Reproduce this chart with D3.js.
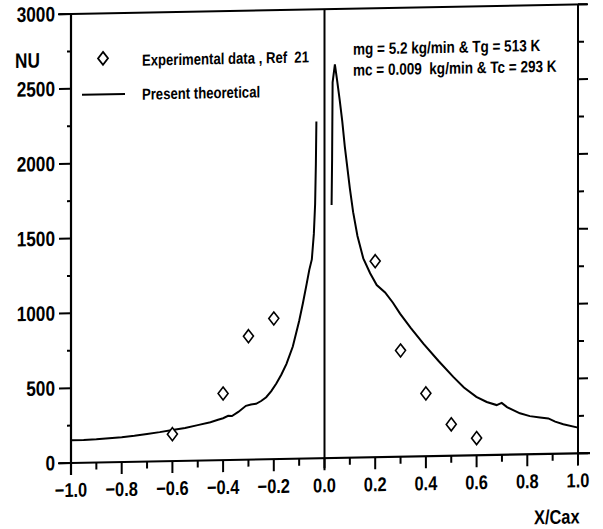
<!DOCTYPE html>
<html>
<head>
<meta charset="utf-8">
<script src="https://cdn.jsdelivr.net/npm/d3@7"></script>
<style>
  body { margin: 0; background: #fff; }
  text { font-family: "Liberation Sans", Arial, sans-serif; font-weight: bold; fill: #000; white-space: pre; }
</style>
</head>
<body>
<div class="chart"></div>
<script>
// theoretical curve, left of the leading edge
var leftX  = [-1.0, -0.95, -0.9, -0.85, -0.8, -0.75, -0.7, -0.65, -0.6, -0.55, -0.5, -0.45, -0.42, -0.4, -0.38, -0.365, -0.34, -0.31, -0.29, -0.27, -0.25, -0.23, -0.21, -0.19, -0.17, -0.15, -0.125, -0.1, -0.085, -0.07, -0.06, -0.05, -0.042, -0.037, -0.034, -0.032];
var leftNU = [152, 152, 155, 160, 166, 174, 184, 195, 208, 220, 237, 255, 270, 280, 295, 293, 320, 360, 368, 372, 390, 415, 455, 505, 565, 635, 750, 920, 1040, 1170, 1260, 1330, 1500, 1700, 1970, 2250];

// theoretical curve, right of the leading edge
var rightX  = [0.028, 0.030, 0.032, 0.041, 0.05, 0.06, 0.07, 0.08, 0.09, 0.10, 0.113, 0.13, 0.153, 0.18, 0.206, 0.239, 0.27, 0.298, 0.34, 0.39, 0.45, 0.508, 0.55, 0.599, 0.64, 0.679, 0.699, 0.72, 0.771, 0.81, 0.85, 0.883, 0.91, 0.942, 1.0];
var rightNU = [1690, 2000, 2510, 2630, 2520, 2390, 2250, 2080, 1940, 1800, 1640, 1480, 1330, 1230, 1150, 1100, 1030, 956, 860, 753, 635, 527, 455, 391, 355, 333, 347, 318, 275, 255, 245, 237, 215, 197, 172];

// experimental data, Ref 21
var expX  = [-0.6, -0.4, -0.3, -0.2, 0.2, 0.3, 0.4, 0.5, 0.6];
var expNU = [180, 445, 825, 940, 1310, 710, 420, 210, 115];

var xTickVals = [-1.0, -0.8, -0.6, -0.4, -0.2, 0.0, 0.2, 0.4, 0.6, 0.8, 1.0];
var yTickVals = [0, 500, 1000, 1500, 2000, 2500, 3000];

var svgWidth = 603, svgHeight = 529;
var svg = d3.select(".chart").append("svg")
  .attr("width", svgWidth)
  .attr("height", svgHeight);

// the scanned figure is slightly sheared: right side sits higher
var shear = 0.019;
var left = 71;
var chartGroup = svg.append("g")
  .attr("transform", `translate(0, ${left * shear}) skewY(${-Math.atan(shear) * 180 / Math.PI})`);

var x = d3.scaleLinear().domain([-1, 1]).range([left, 578]);
var y = d3.scaleLinear().domain([0, 3000]).range([463, 14]);

// bottom axis
var xAxis = chartGroup.append("g")
  .attr("transform", `translate(0, ${y(0)})`);
xAxis.append("line").attr("x1", 58).attr("x2", 590)
  .attr("stroke", "#000").attr("stroke-width", 2.2);
xAxis.selectAll(".xtick")
  .data(d3.range(-10, 11).map(d => d / 10))
  .enter().append("line")
  .attr("x1", d => x(d)).attr("x2", d => x(d))
  .attr("y1", 0)
  .attr("y2", (d, i) => i % 2 === 0 ? 12 : 7)
  .attr("stroke", "#000").attr("stroke-width", 2);
xAxis.selectAll(".xlabel")
  .data(xTickVals)
  .enter().append("text")
  .attr("x", d => x(d))
  .attr("y", 34)
  .attr("text-anchor", "middle")
  .style("font-size", "20px")
  .text(d => d3.format(".1f")(d));

// top frame line
chartGroup.append("line")
  .attr("x1", 58).attr("x2", 587)
  .attr("y1", y(3000)).attr("y2", y(3000))
  .attr("stroke", "#000").attr("stroke-width", 2);

// left axis
var yAxis = chartGroup.append("g");
yAxis.append("line")
  .attr("x1", left).attr("x2", left)
  .attr("y1", y(3000)).attr("y2", y(0) + 12)
  .attr("stroke", "#000").attr("stroke-width", 2.2);
yAxis.selectAll(".ytick")
  .data(d3.range(0, 3001, 250))
  .enter().append("line")
  .attr("x1", left)
  .attr("x2", d => d % 500 === 0 ? left - 12 : left - 4)
  .attr("y1", d => y(d)).attr("y2", d => y(d))
  .attr("stroke", "#000").attr("stroke-width", 2);
yAxis.selectAll(".ylabel")
  .data(yTickVals)
  .enter().append("text")
  .attr("x", 55)
  .attr("y", d => y(d) + 7)
  .attr("text-anchor", "end")
  .style("font-size", "21px")
  .text(d => d);

// right axis
var rightAxis = chartGroup.append("g");
rightAxis.append("line")
  .attr("x1", x(1)).attr("x2", x(1))
  .attr("y1", y(3000)).attr("y2", y(0) + 12)
  .attr("stroke", "#000").attr("stroke-width", 2);
rightAxis.selectAll(".rtick")
  .data(d3.range(0, 3001, 250))
  .enter().append("line")
  .attr("x1", x(1))
  .attr("x2", d => d % 500 === 0 ? x(1) + 10 : x(1) + 6)
  .attr("y1", d => y(d)).attr("y2", d => y(d))
  .attr("stroke", "#000").attr("stroke-width", 2);

// leading edge line at X/Cax = 0
chartGroup.append("line")
  .attr("x1", x(0)).attr("x2", x(0))
  .attr("y1", y(3000)).attr("y2", y(0) + 10)
  .attr("stroke", "#000").attr("stroke-width", 2);

// axis titles
chartGroup.append("text")
  .attr("x", 15).attr("y", 67)
  .style("font-size", "21px")
  .text("NU");
chartGroup.append("text")
  .attr("x", 534).attr("y", 533)
  .style("font-size", "20px")
  .text("X/Cax");

// theoretical curves
var line = d3.line()
  .x(d => x(d[0]))
  .y(d => y(d[1]));
var leftData = leftX.map((d, i) => [d, leftNU[i]]);
var rightData = rightX.map((d, i) => [d, rightNU[i]]);
[leftData, rightData].forEach(function(data) {
  chartGroup.append("path")
    .datum(data)
    .attr("d", line)
    .attr("fill", "none")
    .attr("stroke", "#000")
    .attr("stroke-width", 2);
});

// diamonds
function diamond(cx, cy) {
  return `M${cx},${cy - 6.5} L${cx + 5},${cy} L${cx},${cy + 6.5} L${cx - 5},${cy} Z`;
}
chartGroup.selectAll(".exp")
  .data(expX.map((d, i) => [d, expNU[i]]))
  .enter().append("path")
  .attr("d", d => diamond(x(d[0]), y(d[1])))
  .attr("fill", "#fff")
  .attr("stroke", "#000")
  .attr("stroke-width", 1.6);

// legend
chartGroup.append("path")
  .attr("d", diamond(103, 59))
  .attr("fill", "#fff").attr("stroke", "#000").attr("stroke-width", 1.8);
chartGroup.append("text")
  .attr("x", 142).attr("y", 67)
  .style("font-size", "16px")
  .text("Experimental data , Ref  21");
chartGroup.append("line")
  .attr("x1", 82).attr("x2", 125)
  .attr("y1", 95).attr("y2", 95)
  .attr("stroke", "#000").attr("stroke-width", 2);
chartGroup.append("text")
  .attr("x", 142).attr("y", 101)
  .style("font-size", "16px")
  .text("Present theoretical");

// operating conditions
chartGroup.append("text")
  .attr("x", 353).attr("y", 60)
  .style("font-size", "16.5px")
  .text("mg = 5.2 kg/min & Tg = 513 K");
chartGroup.append("text")
  .attr("x", 353).attr("y", 81)
  .style("font-size", "16.5px")
  .text("mc = 0.009  kg/min & Tc = 293 K");

// the original uses a narrow bold face: squeeze the text horizontally
svg.selectAll("text").each(function() {
  var w = this.getComputedTextLength();
  d3.select(this)
    .attr("textLength", w * 0.82)
    .attr("lengthAdjust", "spacingAndGlyphs");
});
</script>
</body>
</html>
